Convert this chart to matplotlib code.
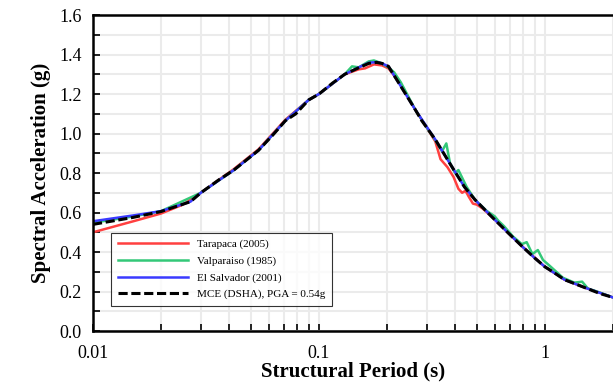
import matplotlib.pyplot as plt
from matplotlib.ticker import FixedLocator, NullFormatter, LogLocator

plt.rcParams['font.family'] = ['Liberation Serif', 'DejaVu Serif']

# MCE (DSHA) target spectrum
period_mce = [0.01, 0.015, 0.02, 0.027, 0.03, 0.036, 0.042, 0.054, 0.063, 0.071,
              0.079, 0.09, 0.1, 0.115, 0.13, 0.15, 0.166, 0.18, 0.19, 0.203,
              0.23, 0.267, 0.285, 0.327, 0.374, 0.44, 0.49, 0.58, 0.69, 0.79,
              0.9, 1.0, 1.1, 1.22, 1.5, 1.75, 2.0]
sa_mce = [0.540, 0.575, 0.605, 0.655, 0.700, 0.765, 0.815, 0.915, 0.997, 1.065,
          1.100, 1.170, 1.200, 1.256, 1.300, 1.333, 1.355, 1.360, 1.355, 1.340,
          1.240, 1.120, 1.065, 0.970, 0.860, 0.730, 0.665, 0.580, 0.495, 0.430,
          0.370, 0.325, 0.295, 0.260, 0.220, 0.190, 0.170]

# Tarapaca (2005)
period_tar = [0.01, 0.015, 0.02, 0.025, 0.03, 0.042, 0.054, 0.071, 0.09, 0.1,
              0.13, 0.15, 0.16, 0.175, 0.19, 0.203, 0.23, 0.267, 0.3, 0.327,
              0.345, 0.37, 0.394, 0.414, 0.43, 0.445, 0.46, 0.48, 0.5, 0.53,
              0.58, 0.69, 0.79, 1.0, 1.22, 1.5, 2.0]
sa_tar = [0.500, 0.555, 0.595, 0.640, 0.700, 0.820, 0.920, 1.070, 1.170, 1.200,
          1.300, 1.325, 1.330, 1.350, 1.345, 1.330, 1.250, 1.120, 1.030, 0.960,
          0.870, 0.830, 0.780, 0.720, 0.700, 0.710, 0.680, 0.645, 0.640, 0.620,
          0.580, 0.495, 0.430, 0.325, 0.260, 0.220, 0.170]

# Valparaiso (1985)
period_val = [0.01, 0.015, 0.02, 0.03, 0.042, 0.054, 0.071, 0.09, 0.1, 0.13,
              0.14, 0.15, 0.166, 0.175, 0.19, 0.203, 0.215, 0.23, 0.267, 0.3,
              0.33, 0.35, 0.366, 0.38, 0.4, 0.414, 0.45, 0.49, 0.55, 0.6,
              0.62, 0.66, 0.72, 0.79, 0.83, 0.88, 0.93, 0.98, 1.05, 1.2,
              1.35, 1.46, 1.55, 1.7, 2.0]
sa_val = [0.548, 0.580, 0.607, 0.700, 0.815, 0.915, 1.065, 1.170, 1.200, 1.300,
          1.340, 1.335, 1.365, 1.370, 1.355, 1.335, 1.310, 1.260, 1.120, 1.030,
          0.960, 0.910, 0.950, 0.850, 0.800, 0.815, 0.730, 0.665, 0.610, 0.580,
          0.560, 0.530, 0.480, 0.440, 0.450, 0.390, 0.410, 0.360, 0.330, 0.270,
          0.245, 0.250, 0.215, 0.200, 0.170]

# El Salvador (2001)
period_els = [0.01, 0.015, 0.02, 0.027, 0.03, 0.042, 0.054, 0.071, 0.09, 0.1,
              0.13, 0.15, 0.166, 0.18, 0.19, 0.203, 0.23, 0.267, 0.327, 0.374,
              0.44, 0.49, 0.58, 0.69, 0.79, 0.9, 1.0, 1.22, 1.5, 2.0]
sa_els = [0.556, 0.585, 0.607, 0.655, 0.700, 0.815, 0.915, 1.065, 1.170, 1.200,
          1.300, 1.335, 1.358, 1.362, 1.355, 1.340, 1.240, 1.120, 0.970, 0.860,
          0.730, 0.665, 0.580, 0.495, 0.430, 0.370, 0.325, 0.260, 0.220, 0.170]

fig = plt.figure(figsize=(6.13, 3.89), dpi=100)
ax = fig.add_axes([0.1517, 0.149, 0.8483, 0.8124])

ax.plot(period_tar, sa_tar, color='#ff4040', lw=1.8, label='Tarapaca (2005)')
ax.plot(period_val, sa_val, color='#33c878', lw=1.8, label='Valparaiso (1985)')
ax.plot(period_els, sa_els, color='#3a3aff', lw=1.8, label='El Salvador (2001)')
ax.plot(period_mce, sa_mce, color='black', lw=2.2, ls=(0, (3, 1.2)),
        label='MCE (DSHA), PGA = 0.54g')

ax.set_xscale('log')
ax.set_xlim(0.01, 2)
ax.set_ylim(0, 1.6)

ax.set_yticks([0.0, 0.2, 0.4, 0.6, 0.8, 1.0, 1.2, 1.4, 1.6])
ax.set_yticklabels(['0.0', '0.2', '0.4', '0.6', '0.8', '1.0', '1.2', '1.4', '1.6'])
ax.yaxis.set_minor_locator(FixedLocator([0.1, 0.3, 0.5, 0.7, 0.9, 1.1, 1.3, 1.5]))
ax.set_xticks([0.01, 0.1, 1])
ax.set_xticklabels(['0.01', '0.1', '1'])
ax.xaxis.set_minor_locator(LogLocator(base=10, subs=range(2, 10)))
ax.xaxis.set_minor_formatter(NullFormatter())

ax.grid(which='both', color='#ebebeb', lw=1.5)
ax.set_axisbelow(True)
ax.tick_params(which='both', direction='in', labelsize=13, top=False, right=False)
ax.tick_params(which='major', length=5, width=1.2, pad=8)
ax.tick_params(which='minor', length=5, width=1.2)
ax.tick_params(axis='x', pad=10)

for side in ['left', 'bottom', 'top']:
    ax.spines[side].set_linewidth(1.8)
ax.spines['right'].set_visible(False)

ax.set_xlabel('Structural Period (s)', fontsize=15, fontweight='bold', labelpad=0)
ax.set_ylabel('Spectral Acceleration (g)', fontsize=15, fontweight='bold', labelpad=6)

leg = ax.legend(loc='lower left', bbox_to_anchor=(0.035, 0.079), fontsize=8,
                handlelength=6.3, frameon=True, fancybox=False, edgecolor='black',
                borderpad=0.6, labelspacing=0.6, borderaxespad=0)
leg.get_frame().set_linewidth(0.8)

fig.savefig('out.png', dpi=100)
